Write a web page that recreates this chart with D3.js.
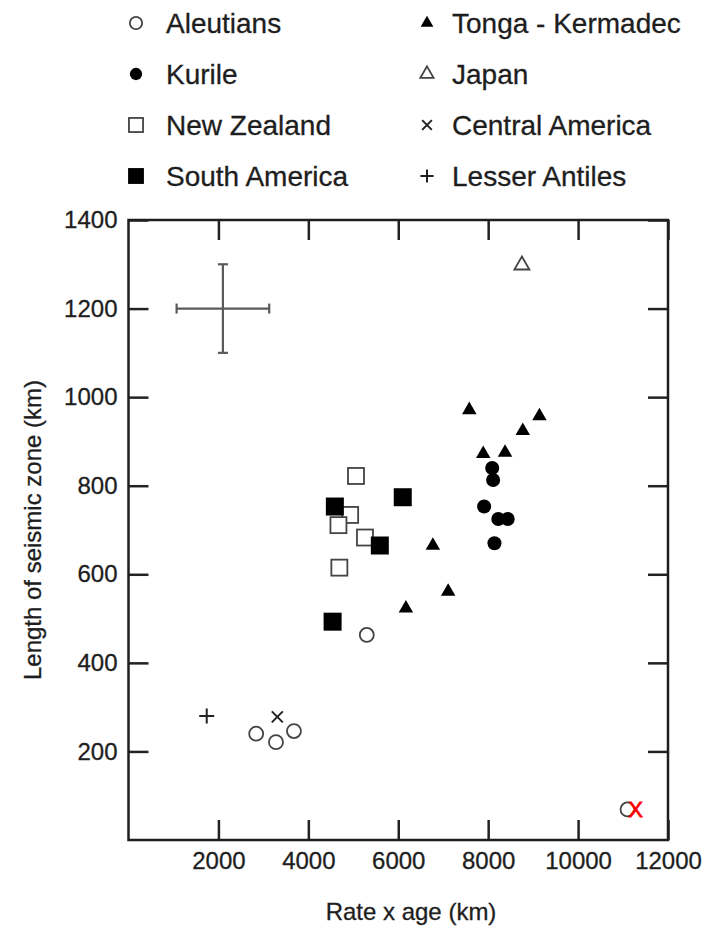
<!DOCTYPE html>
<html>
<head>
<meta charset="utf-8">
<script src="https://cdn.jsdelivr.net/npm/d3@7"></script>
<style>
  body { margin: 0; background: #fff; }
  text { font-family: "Liberation Sans", Arial, sans-serif; fill: #1e1e1e; stroke: #1e1e1e; stroke-width: 0.3; }
</style>
</head>
<body>
<script>
var w = 709;
var h = 928;

// data: [rate x age (km), length of seismic zone (km)]
var aleutians = [[2840, 240], [3280, 221], [3680, 246], [5300, 463], [11100, 69]];
var kurile = [[8090, 840], [8110, 813], [7910, 753], [8225, 725], [8435, 725], [8140, 670]];
var newZealand = [[5060, 822], [4930, 734], [4670, 711], [5260, 683], [4690, 615]];
var southAmerica = [[4590, 753], [6100, 774], [5590, 665], [4540, 493]];
var tonga = [[7580, 971], [9140, 957], [8770, 924], [7890, 872], [8375, 875], [6770, 665], [7110, 561], [6170, 523]];
var japan = [[8750, 1298]];
var centralAmerica = [[3310, 278]];
var lesserAntilles = [[1740, 280]];

// typical error bar
var errCenter = [2100, 1200];
var errX = 1030;
var errY = 100;

var xTicks = [2000, 4000, 6000, 8000, 10000, 12000];
var yTicks = [200, 400, 600, 800, 1000, 1200, 1400];

var seriesNames = ["Aleutians", "Kurile", "New Zealand", "South America",
                   "Tonga - Kermadec", "Japan", "Central America", "Lesser Antiles"];
var seriesData = [aleutians, kurile, newZealand, southAmerica,
                  tonga, japan, centralAmerica, lesserAntilles];
var seriesShape = ["openCircle", "circle", "openSquare", "square",
                   "triangle", "openTriangle", "x", "plus"];

var svg = d3.select("body")
    .append("svg")
    .attr("width", w)
    .attr("height", h);

var xScale = d3.scaleLinear().domain([0, 12000]).range([128.5, 668]);
var yScale = d3.scaleLinear().domain([0, 1400]).range([840, 220]);

// draws one marker of a given shape, s = scale factor
function marker(g, shape, cx, cy, s) {
  var m;
  if (shape == "circle" || shape == "openCircle") {
    m = g.append("circle").attr("cx", cx).attr("cy", cy).attr("r", 7 * s);
  } else if (shape == "square" || shape == "openSquare") {
    var a = (shape == "square" ? 18 : 16) * s;
    m = g.append("rect").attr("x", cx - a / 2).attr("y", cy - a / 2)
        .attr("width", a).attr("height", a);
  } else if (shape == "triangle" || shape == "openTriangle") {
    var t = (shape == "triangle" ? 14.5 : 15) * s;
    var th = t * Math.sqrt(3) / 2;
    m = g.append("path")
        .attr("d", "M" + cx + "," + (cy - th * 2 / 3) +
                   "L" + (cx + t / 2) + "," + (cy + th / 3) +
                   "L" + (cx - t / 2) + "," + (cy + th / 3) + "Z");
  } else if (shape == "x") {
    var d = 5.5 * s;
    m = g.append("path")
        .attr("d", "M" + (cx - d) + "," + (cy - d) + "L" + (cx + d) + "," + (cy + d) +
                   "M" + (cx + d) + "," + (cy - d) + "L" + (cx - d) + "," + (cy + d));
  } else {
    var p = 7.5 * s;
    m = g.append("path")
        .attr("d", "M" + (cx - p) + "," + cy + "L" + (cx + p) + "," + cy +
                   "M" + cx + "," + (cy - p) + "L" + cx + "," + (cy + p));
  }
  if (shape == "circle" || shape == "square" || shape == "triangle") {
    m.attr("fill", "#000");
  } else if (shape == "x" || shape == "plus") {
    m.attr("fill", "none").attr("stroke", "#222").attr("stroke-width", 2);
  } else {
    m.attr("fill", "#fff").attr("stroke", "#444").attr("stroke-width", 1.8);
  }
  return m;
}

// legend
var legend = svg.append("g");
seriesNames.forEach(function(name, i) {
  var col = Math.floor(i / 4);
  var row = i % 4;
  var mx = col == 0 ? 136 : 427;
  var ty = 33 + row * 51;
  marker(legend, seriesShape[i], mx, ty - 10, 0.88);
  legend.append("text")
      .attr("x", mx + (col == 0 ? 30 : 25))
      .attr("y", ty)
      .attr("font-size", 28)
      .text(name);
});

// axes, ticks pointing inwards on all four sides
var x0 = xScale.range()[0], x1 = xScale.range()[1];
var y0 = yScale.range()[0], y1 = yScale.range()[1];

svg.append("g")
    .attr("transform", "translate(0," + y0 + ")")
    .call(d3.axisBottom(xScale).tickValues(xTicks).tickSize(-20).tickPadding(12)
          .tickFormat(d3.format("d")));

svg.append("g")
    .attr("transform", "translate(0," + y1 + ")")
    .call(d3.axisTop(xScale).tickValues(xTicks).tickSize(-20).tickFormat(""));

svg.append("g")
    .attr("transform", "translate(" + x0 + ",0)")
    .call(d3.axisLeft(yScale).tickValues(yTicks).tickSize(-20).tickPadding(11)
          .tickFormat(d3.format("d")));

svg.append("g")
    .attr("transform", "translate(" + x1 + ",0)")
    .call(d3.axisRight(yScale).tickValues(yTicks).tickSize(-20).tickFormat(""));

svg.selectAll(".domain").remove();
svg.selectAll(".tick line").attr("stroke", "#222").attr("stroke-width", 2.5);
svg.selectAll(".tick text")
    .attr("font-size", 24)
    .attr("font-family", "Liberation Sans, Arial, sans-serif")
    .attr("fill", "#2a2a2a");

svg.append("rect")
    .attr("x", x0)
    .attr("y", y1)
    .attr("width", x1 - x0)
    .attr("height", y0 - y1)
    .attr("fill", "none")
    .attr("stroke", "#1e1e1e")
    .attr("stroke-width", 2.5);

// axis titles
svg.append("text")
    .attr("x", 411)
    .attr("y", 920)
    .attr("text-anchor", "middle")
    .attr("font-size", 24)
    .text("Rate x age (km)");

svg.append("text")
    .attr("transform", "translate(41," + ((y0 + y1) / 2) + ") rotate(-90)")
    .attr("text-anchor", "middle")
    .attr("font-size", 24)
    .text("Length of seismic zone (km)");

// error cross
var err = svg.append("g").attr("stroke", "#5a5a5a").attr("stroke-width", 2.2);
var ex = xScale(errCenter[0]), ey = yScale(errCenter[1]);
var exl = xScale(errCenter[0] - errX), exr = xScale(errCenter[0] + errX);
var eyt = yScale(errCenter[1] + errY), eyb = yScale(errCenter[1] - errY);
err.append("line").attr("x1", exl).attr("x2", exr).attr("y1", ey).attr("y2", ey);
err.append("line").attr("x1", ex).attr("x2", ex).attr("y1", eyt).attr("y2", eyb);
err.append("line").attr("x1", exl).attr("x2", exl).attr("y1", ey - 5).attr("y2", ey + 5);
err.append("line").attr("x1", exr).attr("x2", exr).attr("y1", ey - 5).attr("y2", ey + 5);
err.append("line").attr("x1", ex - 5).attr("x2", ex + 5).attr("y1", eyt).attr("y2", eyt);
err.append("line").attr("x1", ex - 5).attr("x2", ex + 5).attr("y1", eyb).attr("y2", eyb);

// points
var pts = svg.append("g");
seriesData.forEach(function(data, i) {
  data.forEach(function(d) {
    marker(pts, seriesShape[i], xScale(d[0]), yScale(d[1]), 1);
  });
});

// red X annotation on the far Aleutian point
var last = aleutians[aleutians.length - 1];
svg.append("text")
    .attr("x", xScale(last[0]) + 8)
    .attr("y", yScale(last[1]) + 7.5)
    .attr("text-anchor", "middle")
    .attr("font-size", 22)
    .style("fill", "#ff0000")
    .style("stroke", "#ff0000")
    .style("stroke-width", 0.8)
    .text("X");
</script>
</body>
</html>
